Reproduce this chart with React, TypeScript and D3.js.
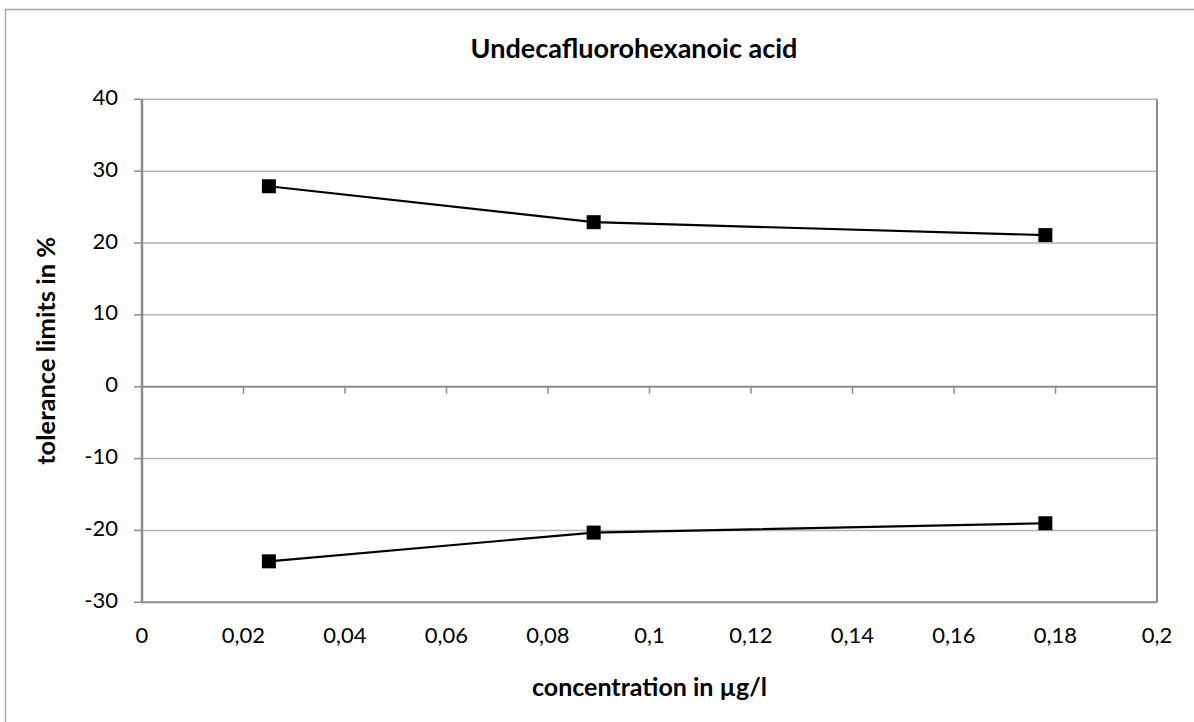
import React from "react";
import * as d3 from "d3";

const concentrations = [0.025, 0.089, 0.178];
const upperLimits = [27.9, 22.9, 21.1];
const lowerLimits = [-24.3, -20.3, -19.0];
const xTicks = [0, 0.02, 0.04, 0.06, 0.08, 0.1, 0.12, 0.14, 0.16, 0.18, 0.2];
const yTicks = [40, 30, 20, 10, 0, -10, -20, -30];
const title = "Undecafluorohexanoic acid";
const xTitle = "concentration in µg/l";
const yTitle = "tolerance limits in %";

const W = 1194;
const H = 722;
const left = 142;
const right = 1157;
const top = 99.3;
const bottom = 602.3;
const font = "Lato, 'Open Sans', sans-serif";

export default function App() {
  const x = d3.scaleLinear().domain([0, 0.2]).range([left, right]);
  const y = d3.scaleLinear().domain([-30, 40]).range([bottom, top]);
  const line = d3
    .line<[number, number]>()
    .x((d) => x(d[0]))
    .y((d) => y(d[1]));
  const series = [upperLimits, lowerLimits].map((vals) =>
    concentrations.map((c, i) => [c, vals[i]] as [number, number])
  );
  const fmt = (v: number) => String(v).replace(".", ",");
  const ms = 14;
  return (
    <svg
      width={W}
      height={H}
      style={{ position: "absolute", left: 0, top: 0, background: "#fff" }}
    >
      <rect x={5.5} y={9.5} width={1300} height={900} fill="#fff" stroke="#a6a6a6" strokeWidth={1.5} />
      <text x={634} y={51} textAnchor="middle" dominantBaseline="middle" fontFamily={font} fontWeight="bold" fontSize={27}>
        {title}
      </text>
      {yTicks.map((t) => (
        <g key={"y" + t}>
          {t !== -30 && t !== 0 && (
            <line x1={left} x2={right} y1={y(t)} y2={y(t)} stroke="#b3b3b3" strokeWidth={1.5} />
          )}
          <line x1={left - 8} x2={left} y1={y(t)} y2={y(t)} stroke="#8c8c8c" strokeWidth={1.5} />
          <text x={118} y={y(t)} textAnchor="end" dominantBaseline="middle" fontFamily={font} fontSize={22}>
            {t}
          </text>
        </g>
      ))}
      <line x1={right} x2={right} y1={top} y2={bottom} stroke="#8c8c8c" strokeWidth={2} />
      <line x1={left} x2={right} y1={bottom} y2={bottom} stroke="#8c8c8c" strokeWidth={2} />
      <line x1={left} x2={right} y1={y(0)} y2={y(0)} stroke="#8c8c8c" strokeWidth={2} />
      {xTicks.map((t) => (
        <g key={"x" + t}>
          {t !== 0 && (
            <line x1={x(t)} x2={x(t)} y1={y(0)} y2={y(0) + 7} stroke="#8c8c8c" strokeWidth={1.5} />
          )}
          <text x={x(t)} y={637} textAnchor="middle" dominantBaseline="middle" fontFamily={font} fontSize={22}>
            {fmt(t)}
          </text>
        </g>
      ))}
      <line x1={left} x2={left} y1={top} y2={bottom + 1} stroke="#8c8c8c" strokeWidth={2.5} />
      {series.map((pts, si) => (
        <g key={"s" + si}>
          <path d={line(pts) || ""} fill="none" stroke="#000" strokeWidth={2.2} />
          {pts.map((p, i) => (
            <rect key={i} x={x(p[0]) - ms / 2} y={y(p[1]) - ms / 2} width={ms} height={ms} fill="#000" />
          ))}
        </g>
      ))}
      <text x={(left + right) / 2} y={690} textAnchor="middle" dominantBaseline="middle" fontFamily={font} fontWeight="bold" fontSize={25}>
        {xTitle}
      </text>
      <text
        transform={`translate(48,${(top + bottom) / 2}) rotate(-90)`}
        textAnchor="middle"
        dominantBaseline="middle"
        fontFamily={font}
        fontWeight="bold"
        fontSize={25.5}
      >
        {yTitle}
      </text>
    </svg>
  );
}
